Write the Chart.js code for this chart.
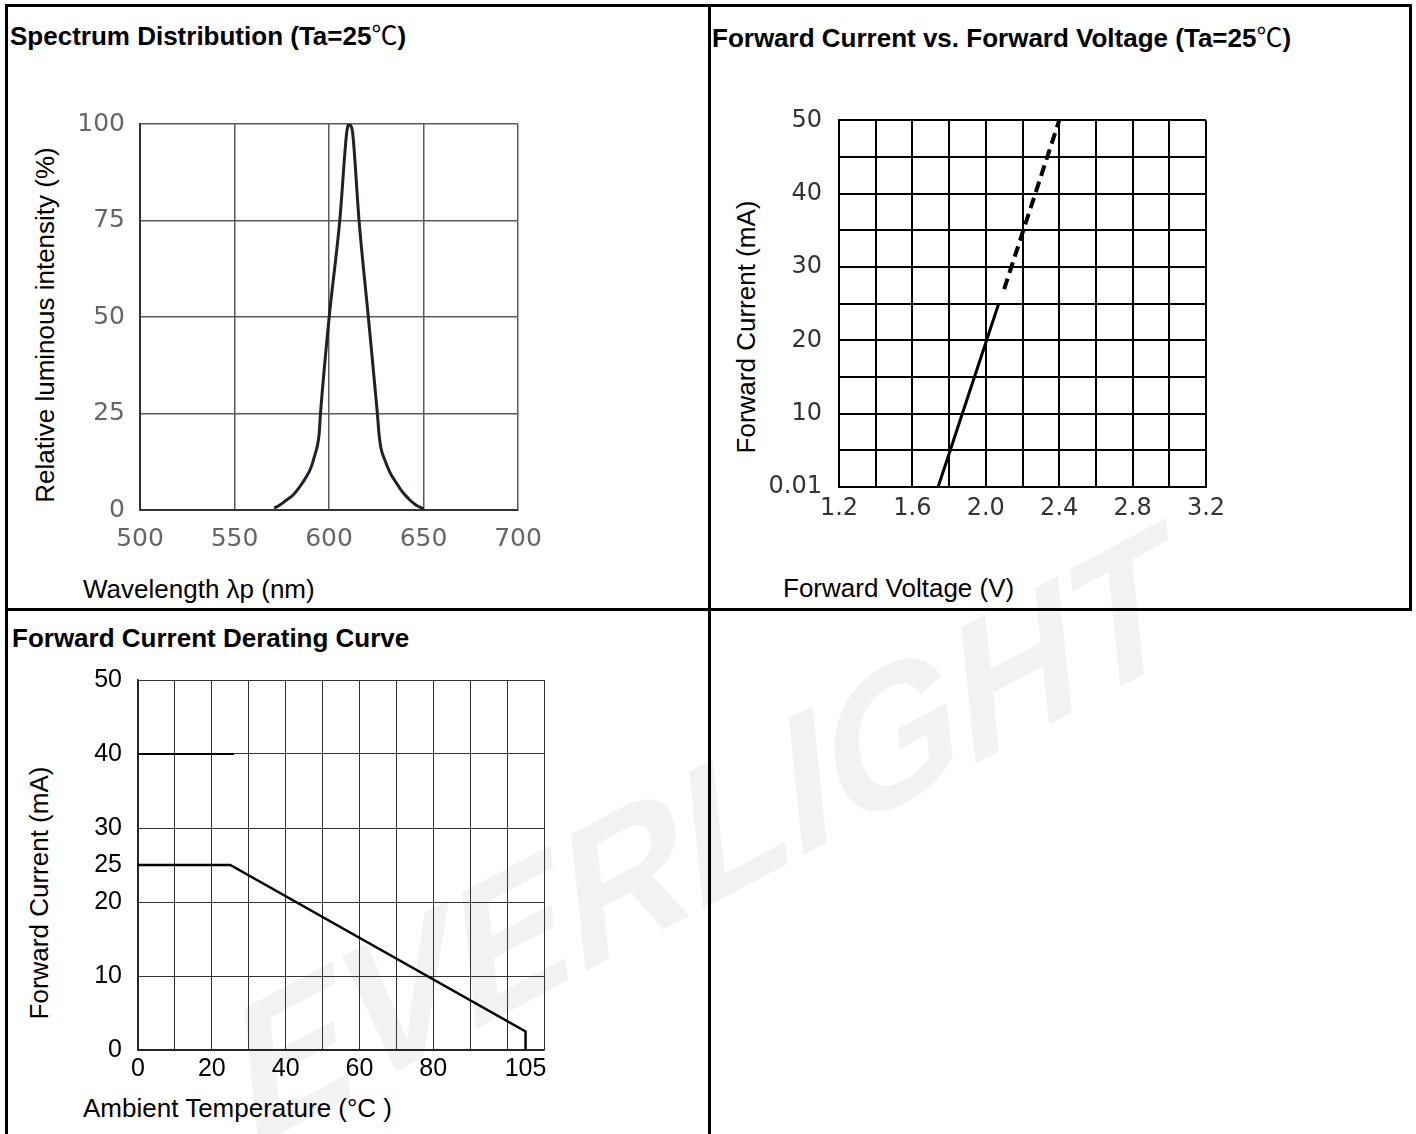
<!DOCTYPE html>
<html>
<head>
<meta charset="utf-8">
<script src="https://cdn.jsdelivr.net/npm/chart.js@4.4.1/dist/chart.umd.min.js"></script>
<style>
body { margin: 0; background: #fff; }
#page { position: relative; width: 1416px; height: 1134px; overflow: hidden; font-family: "Liberation Sans", Arial, sans-serif; color: #000; }
.rule { position: absolute; background: #000; }
.head { position: absolute; font-weight: bold; font-size: 26px; line-height: 30px; white-space: nowrap; }
.axt { position: absolute; font-size: 26px; line-height: 30px; white-space: nowrap; }
.vt { transform: translate(-50%, -50%) rotate(-90deg); }
.deg { font-family: "Noto Sans CJK SC", "DejaVu Sans", sans-serif; font-weight: normal; }
canvas { position: absolute; }
#wm { position: absolute; left: 705px; top: 835px; transform: translate(-50%, -50%) rotate(-28deg) skewX(-12deg);
      font: italic bold 185px "Liberation Sans", Arial, sans-serif; color: #f2f2f2; white-space: nowrap; }
</style>
</head>
<body>
<div id="page">
  <div id="wm">EVERLIGHT</div>

  <!-- table rules -->
  <div class="rule" style="left:5px;top:4px;width:1407px;height:3px"></div>
  <div class="rule" style="left:5px;top:4px;width:3px;height:1130px"></div>
  <div class="rule" style="left:708px;top:4px;width:3px;height:1130px"></div>
  <div class="rule" style="left:5px;top:608px;width:1407px;height:3px"></div>
  <div class="rule" style="left:1409px;top:4px;width:3px;height:607px"></div>

  <div class="head" style="left:10px;top:19px">Spectrum Distribution (Ta=25<span class="deg">℃</span>)</div>
  <div class="head" style="left:712px;top:21px">Forward Current vs. Forward Voltage (Ta=25<span class="deg">℃</span>)</div>
  <div class="head" style="left:12px;top:623px">Forward Current Derating Curve</div>

  <div class="axt vt" style="left:45px;top:325px">Relative luminous intensity (%)</div>
  <div class="axt" style="left:83px;top:574px">Wavelength λp (nm)</div>
  <div class="axt vt" style="left:746px;top:327px">Forward Current (mA)</div>
  <div class="axt" style="left:783px;top:573px">Forward Voltage (V)</div>
  <div class="axt vt" style="left:39px;top:893px">Forward Current (mA)</div>
  <div class="axt" style="left:83px;top:1093px">Ambient Temperature (°C )</div>

  <canvas id="specChart" width="500" height="476" style="left:60px;top:94px"></canvas>
  <canvas id="ivChart" width="520" height="451" style="left:720px;top:89px"></canvas>
  <canvas id="deratingChart" width="560" height="485" style="left:20px;top:649px"></canvas>
</div>

<script>
// spectrum distribution
const wavelength = [571, 574, 577, 581, 584.5, 588, 590.5, 592.5, 594, 594.8, 595.5, 600.1, 605.7, 609.3, 610, 610.7, 611.5, 612.5,
                    615.9, 620.8, 625.6, 626.5, 627.5, 629.6, 632.5, 635.8, 639, 642.8, 646, 650];
const relIntensity = [0.5, 1.3, 2.4, 3.9, 6, 8.6, 11, 14.2, 17, 19.8, 25, 50, 75, 97.5, 99.5, 100, 99.6, 97.8,
                      75, 50, 25, 19.5, 16, 12.9, 9.5, 6.9, 4.6, 2.6, 1.3, 0.3];

// forward current vs forward voltage
const ivSolidV = [1.74, 2.07];
const ivSolidI = [0, 25];
const ivDashV = [2.1, 2.4];
const ivDashI = [27, 50];
const ivGridV = [1.2, 1.4, 1.6, 1.8, 2.0, 2.2, 2.4, 2.6, 2.8, 3.0, 3.2];
const ivXLabels = ['1.2', '1.6', '2.0', '2.4', '2.8', '3.2'];
const ivGridI = [0, 5, 10, 15, 20, 25, 30, 35, 40, 45, 50];
const ivYLabels = ['0.01', '10', '20', '30', '40', '50'];

// derating curve
const ambientTemp = [0, 25, 105, 105];
const deratedCurrent = [25, 25, 2.5, 0];
const markTemp = [0, 26];
const markCurrent = [40, 40];
const derGridT = [0, 10, 20, 30, 40, 50, 60, 70, 80, 90, 100, 105, 110];
const derXLabels = [0, 20, 40, 60, 80, 105];
const derGridI = [0, 10, 20, 25, 30, 40, 50];

Chart.defaults.font.family = '"Liberation Sans", Arial, sans-serif';
Chart.defaults.color = '#000';

function toPoints(xs, ys) {
    return xs.map((x, i) => ({ x: x, y: ys[i] }));
}

function fixWidth(w) {
    return function (scale) { scale.width = w; };
}

function fixHeight(h) {
    return function (scale) { scale.height = h; };
}

function setTicks(values) {
    return function (scale) { scale.ticks = values.map(v => ({ value: v })); };
}

const baseOptions = {
    responsive: false,
    animation: false,
    devicePixelRatio: 1,
    plugins: { legend: { display: false }, tooltip: { enabled: false } }
};

// Spectrum
new Chart(document.getElementById('specChart'), {
    type: 'line',
    data: {
        datasets: [{
            data: toPoints(wavelength, relIntensity),
            borderColor: '#1d2128',
            borderWidth: 3,
            pointRadius: 0,
            cubicInterpolationMode: 'monotone',
            borderJoinStyle: 'round'
        }]
    },
    options: {
        ...baseOptions,
        layout: { padding: { top: 0, right: 42, left: 0, bottom: 0 } },
        scales: {
            x: {
                type: 'linear', min: 500, max: 700,
                afterFit: fixHeight(60),
                ticks: { stepSize: 50, padding: 14, color: '#666', maxRotation: 0,
                         font: { family: '"DejaVu Sans"', size: 25 } },
                grid: { color: '#5a5a5a', lineWidth: 1.5, drawTicks: false },
                border: { color: '#333', width: 2 }
            },
            y: {
                min: 0, max: 100,
                afterFit: fixWidth(80),
                ticks: { stepSize: 25, padding: 15, color: '#666',
                         font: { family: '"DejaVu Sans"', size: 25 } },
                grid: { color: '#5a5a5a', lineWidth: 1.5, drawTicks: false },
                border: { color: '#333', width: 2 }
            }
        }
    }
});

// Forward current vs forward voltage
new Chart(document.getElementById('ivChart'), {
    type: 'line',
    data: {
        datasets: [
            { data: toPoints(ivSolidV, ivSolidI), borderColor: '#000', borderWidth: 3, pointRadius: 0 },
            { data: toPoints(ivDashV, ivDashI), borderColor: '#000', borderWidth: 4, pointRadius: 0,
              borderDash: [11, 6] }
        ]
    },
    options: {
        ...baseOptions,
        layout: { padding: { top: 0, right: 34, left: 0, bottom: 0 } },
        scales: {
            x: {
                type: 'linear', min: 1.2, max: 3.2,
                afterFit: fixHeight(53),
                afterBuildTicks: setTicks(ivGridV),
                ticks: {
                    autoSkip: false, maxRotation: 0, padding: 7, color: '#333',
                    font: { family: '"DejaVu Sans"', size: 24 },
                    callback: (v, i) => (i % 2 === 0 ? ivXLabels[i / 2] : '')
                },
                grid: { color: '#000', lineWidth: 2, drawTicks: false },
                border: { color: '#000', width: 2 }
            },
            y: {
                min: 0, max: 50,
                afterFit: fixWidth(119),
                afterBuildTicks: setTicks(ivGridI),
                ticks: {
                    autoSkip: false, padding: 17, color: '#333',
                    font: { family: '"DejaVu Sans"', size: 24 },
                    callback: (v, i) => (i % 2 === 0 ? ivYLabels[i / 2] : '')
                },
                grid: { color: '#000', lineWidth: 2, drawTicks: false },
                border: { color: '#000', width: 2 }
            }
        }
    }
});

// Derating curve
new Chart(document.getElementById('deratingChart'), {
    type: 'line',
    data: {
        datasets: [
            { data: toPoints(markTemp, markCurrent), borderColor: '#000', borderWidth: 2, pointRadius: 0 },
            { data: toPoints(ambientTemp, deratedCurrent), borderColor: '#000', borderWidth: 2.5, pointRadius: 0 }
        ]
    },
    options: {
        ...baseOptions,
        layout: { padding: { top: 0, right: 36, left: 0, bottom: 0 } },
        scales: {
            x: {
                type: 'linear', min: 0, max: 110,
                afterFit: fixHeight(84),
                afterBuildTicks: setTicks(derGridT),
                ticks: {
                    autoSkip: false, maxRotation: 0, padding: 4, color: '#000',
                    font: { size: 25 },
                    callback: v => (derXLabels.includes(v) ? String(v) : '')
                },
                grid: {
                    drawTicks: false, lineWidth: 1,
                    color: ctx => (ctx.tick && ctx.tick.value === 105 ? 'rgba(0,0,0,0)' : '#333')
                },
                border: { color: '#222', width: 1.5 }
            },
            y: {
                min: 0, max: 50,
                afterFit: fixWidth(118),
                afterBuildTicks: setTicks(derGridI),
                ticks: { autoSkip: false, padding: 16, color: '#000', font: { size: 25 } },
                grid: {
                    drawTicks: false, lineWidth: 1,
                    color: ctx => (ctx.tick && ctx.tick.value === 25 ? 'rgba(0,0,0,0)' : '#333')
                },
                border: { color: '#222', width: 1.5 }
            }
        }
    }
});
</script>
</body>
</html>
